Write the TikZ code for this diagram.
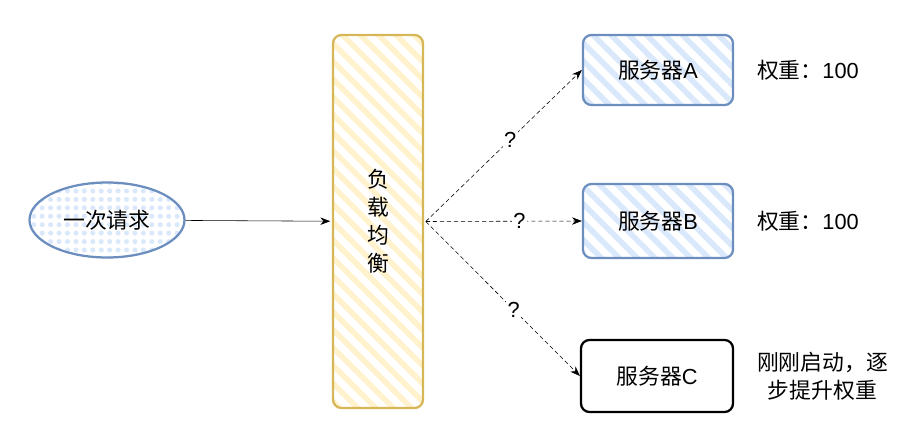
\documentclass[tikz,border=0pt]{standalone}
\usepackage{fontspec}
\setmainfont{Liberation Sans}
\newfontfamily\cjk{Noto Sans CJK SC}
\usepackage{tikz}
\usetikzlibrary{positioning,arrows.meta,patterns.meta,shapes.geometric}
\definecolor{blueline}{HTML}{6C8EBF}
\definecolor{bluefill}{HTML}{DAE8FC}
\definecolor{yellowline}{HTML}{D6B656}
\definecolor{yellowfill}{HTML}{FFF2CC}

\begin{document}
\begin{tikzpicture}[every node/.style={font=\fontsize{15.5}{20}\selectfont}]
    \useasboundingbox (0,0) rectangle (23.05,11.1);
    \node[draw=blueline,line width=1.6pt,ellipse,pattern={Dots[radius=1.8pt,distance=6pt]},pattern color=bluefill,minimum width=3.875cm,minimum height=1.875cm] (req) at (2.675,5.6) {\cjk 一次请求};
    \node[draw=yellowline,line width=1.6pt,rounded corners=6pt,pattern={Lines[angle=-45,distance=9pt,line width=4pt]},pattern color=yellowfill,minimum width=2.25cm,minimum height=9.325cm,align=center] (lb) at (9.45,5.5625) {\cjk 负\\\cjk 载\\\cjk 均\\\cjk 衡};
    \node[draw=blueline,line width=1.6pt,rounded corners=6pt,pattern={Lines[angle=-45,distance=9pt,line width=4pt]},pattern color=bluefill,minimum width=3.75cm,minimum height=1.75cm] (srvA) at (16.45,9.35) {{\cjk 服务器}A};
    \node[draw=blueline,line width=1.6pt,rounded corners=6pt,pattern={Lines[angle=-45,distance=9pt,line width=4pt]},pattern color=bluefill,minimum width=3.75cm,minimum height=1.85cm] (srvB) at (16.45,5.575) {{\cjk 服务器}B};
    \node[draw=black,line width=1.6pt,rounded corners=6pt,fill=white,minimum width=3.8cm,minimum height=1.8cm] (srvC) at (16.425,1.7) {{\cjk 服务器}C};
    \node[right=0.45cm of srvA] (wA) {{\cjk 权重：}100};
    \node[right=0.45cm of srvB] (wB) {{\cjk 权重：}100};
    \node[right=0.45cm of srvC,align=center] (wC) {\cjk 刚刚启动，逐\\\cjk 步提升权重};
    \draw[-{Stealth[length=7pt]}] (req) -- (lb);
    \draw[-{Stealth[length=7pt]},dash pattern=on 3pt off 2pt] (lb.east) -- node[pos=0.54,fill=white,inner sep=1pt] {?} (srvA.west);
    \draw[-{Stealth[length=7pt]},dash pattern=on 3pt off 2pt] (lb.east) -- node[pos=0.6,fill=white,inner sep=1pt] {?} (srvB.west);
    \draw[-{Stealth[length=7pt]},dash pattern=on 3pt off 2pt] (lb.east) -- node[pos=0.57,fill=white,inner sep=1pt] {?} (srvC.west);
\end{tikzpicture}
\end{document}
